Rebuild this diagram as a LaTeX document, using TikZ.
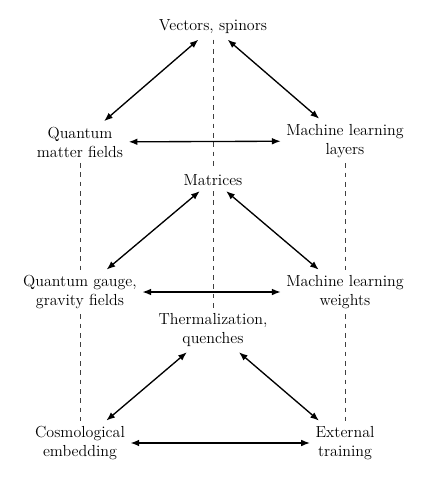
\documentclass[tikz,border=0pt]{standalone}
\usepackage{amsmath}
\usepackage{tikz}
\usetikzlibrary{arrows.meta, positioning}

\begin{document}
\begin{tikzpicture}[x=0.75pt, y=-0.75pt,
		every node/.style={align=center, inner sep=4pt, font=\fontsize{12}{14.3}\selectfont},
		link/.style={line width=1pt, {Latex[length=6.5pt,width=5pt]}-{Latex[length=6.5pt,width=5pt]}},
		guide/.style={thin, black!75, dash pattern=on 3.5pt off 3.5pt}]
			\useasboundingbox (0,0) rectangle (428,482);

			\node (vectors) at (213,27) {Vectors, spinors};
			\node (matter) at (80,142) {Quantum\\matter fields};
			\node (layers) at (345,141) {Machine learning\\layers};
			\node (matrices) at (213,180) {Matrices};
			\node (gauge) at (80,292) {Quantum gauge,\\gravity fields};
			\node (weights) at (345,292) {Machine learning\\weights};
			\node (thermal) at (213,330) {Thermalization,\\quenches};
			\node (cosmo) at (80,443) {Cosmological\\embedding};
			\node (training) at (345,443) {External\\training};

			\draw [guide] (vectors) -- (matrices);
			\draw [guide] (matrices) -- (thermal);
			\draw [guide] (matter) -- (gauge);
			\draw [guide] (gauge) -- (cosmo);
			\draw [guide] (layers) -- (weights);
			\draw [guide] (weights) -- (training);

			\draw [link] (vectors) -- (matter);
			\draw [link] (vectors) -- (layers);
			\draw [link] (matter) -- (layers);
			\draw [link] (matrices) -- (gauge);
			\draw [link] (matrices) -- (weights);
			\draw [link] (gauge) -- (weights);
			\draw [link] (thermal) -- (cosmo);
			\draw [link] (thermal) -- (training);
			\draw [link] (cosmo) -- (training);
		\end{tikzpicture}
\end{document}
